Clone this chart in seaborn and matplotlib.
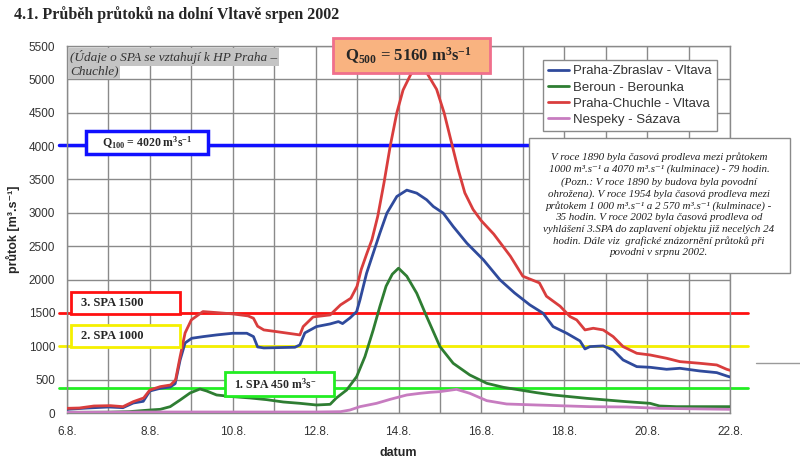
import numpy as np
import pandas as pd
import matplotlib
matplotlib.use("Agg")
import matplotlib.pyplot as plt
from matplotlib.patches import Rectangle
from matplotlib.lines import Line2D
import seaborn as sns

# ---------------- data ----------------
zbraslav_days = [6.0, 6.5, 7.0, 7.35, 7.6, 7.84, 8.0, 8.25, 8.49, 8.61, 8.73, 8.85, 9.01, 9.29,
                 9.61, 10.0, 10.34, 10.5, 10.6, 10.75, 11.1, 11.5, 11.62, 11.74, 12.02, 12.35,
                 12.55, 12.65, 12.83, 12.99, 13.07, 13.23, 13.39, 13.55, 13.72, 13.96, 14.2,
                 14.44, 14.68, 14.84, 15.08, 15.32, 15.65, 16.05, 16.45, 16.8, 17.17, 17.49,
                 17.73, 18.06, 18.38, 18.5, 18.62, 18.94, 19.18, 19.42, 19.75, 20.07, 20.47,
                 20.79, 21.27, 21.68, 21.92, 22.0]
zbraslav_vals = [55, 75, 90, 80, 150, 175, 330, 370, 390, 440, 795, 1050, 1120, 1145,
                 1170, 1195, 1195, 1145, 990, 975, 980, 985, 1020, 1200, 1295, 1335,
                 1370, 1340, 1425, 1520, 1695, 2095, 2395, 2695, 2995, 3245, 3340,
                 3295, 3195, 3095, 2995, 2795, 2545, 2295, 1995, 1800, 1620, 1495,
                 1295, 1195, 1080, 960, 995, 1005, 945, 795, 695, 685, 655,
                 670, 630, 605, 555, 540]

beroun_days = [6.0, 7.0, 7.5, 8.0, 8.25, 8.49, 8.73, 8.97, 9.21, 9.37, 9.61, 10.0, 10.42,
               10.82, 11.22, 11.62, 12.02, 12.35, 12.5, 12.75, 12.99, 13.19, 13.39, 13.55,
               13.7, 13.85, 14.0, 14.2, 14.44, 14.68, 15.0, 15.32, 15.72, 16.13, 16.53,
               16.93, 17.33, 17.73, 18.54, 19.5, 20.07, 20.3, 20.71, 22.0]
beroun_vals = [10, 12, 20, 45, 55, 95, 195, 300, 360, 330, 270, 245, 225,
               200, 165, 145, 120, 130, 225, 345, 545, 845, 1245, 1595,
               1900, 2080, 2170, 2050, 1795, 1445, 995, 745, 570, 445, 385,
               345, 305, 270, 220, 170, 145, 105, 95, 95]

chuchle_days = [6.0, 6.3, 6.65, 7.05, 7.35, 7.6, 7.85, 8.0, 8.25, 8.5, 8.62, 8.73, 8.85, 9.0,
                9.28, 9.6, 10.0, 10.37, 10.5, 10.6, 10.75, 11.05, 11.45, 11.62, 11.7, 11.94,
                12.35, 12.6, 12.85, 13.0, 13.1, 13.23, 13.36, 13.5, 13.65, 13.8, 13.96,
                14.11, 14.3, 14.5, 14.7, 14.92, 15.1, 15.28, 15.44, 15.6, 15.8, 16.0, 16.3,
                16.7, 17.0, 17.4, 17.57, 17.9, 18.14, 18.3, 18.5, 18.7, 18.94, 19.18, 19.42,
                19.75, 20.07, 20.47, 20.79, 21.27, 21.68, 21.92, 22.0]
chuchle_vals = [70, 75, 105, 110, 95, 170, 225, 345, 395, 420, 495, 845, 1200, 1395,
                1520, 1505, 1485, 1455, 1420, 1300, 1245, 1220, 1185, 1170, 1295, 1440,
                1470, 1620, 1720, 1900, 2150, 2380, 2600, 2950, 3450, 4000, 4500,
                4840, 5080, 5165, 5080, 4850, 4500, 4050, 3650, 3300, 3050, 2880, 2680,
                2350, 2050, 1950, 1750, 1600, 1445, 1395, 1245, 1270, 1245, 1145, 995,
                895, 870, 820, 770, 745, 720, 655, 640]

nespeky_days = [6.0, 8.0, 10.0, 12.0, 12.6, 12.83, 13.07, 13.47, 13.8, 14.2, 14.52, 14.76,
                15.0, 15.4, 15.72, 16.13, 16.61, 17.33, 18.62, 19.5, 20.3, 22.0]
nespeky_vals = [10, 15, 15, 15, 20, 45, 95, 145, 205, 270, 295, 310,
                320, 355, 295, 185, 135, 120, 95, 90, 70, 55]

series_names = ["Praha-Zbraslav - Vltava", "Beroun - Berounka",
                "Praha-Chuchle - Vltava", "Nespeky - Sázava"]
series_colors = ["#2f4a9c", "#2e7d32", "#d93d3d", "#c77cc0"]

x_tick_days = [6, 8, 10, 12, 14, 16, 18, 20, 22]
x_tick_labels = ["6.8.", "8.8.", "10.8.", "12.8.", "14.8.", "16.8.", "18.8.", "20.8.", "22.8."]
y_ticks = list(range(0, 5501, 500))

q100_level = 4020
spa3_level = 1500
spa2_level = 1000
spa1_level = 380   # drawn position of the "1. SPA 450" line in the reference

note_lines = [
    "V roce 1890 byla časová prodleva mezi průtokem",
    "1000 m³.s⁻¹ a 4070 m³.s⁻¹ (kulminace) - 79 hodin.",
    "(Pozn.: V roce 1890 by budova byla povodní",
    "ohrožena). V roce 1954 byla časová prodleva mezi",
    "průtokem 1 000 m³.s⁻¹ a 2 570 m³.s⁻¹ (kulminace) -",
    "35 hodin. V roce 2002 byla časová prodleva od",
    "vyhlášení 3.SPA do zaplavení objektu již necelých 24",
    "hodin. Dále viz  grafické znázornění průtoků při",
    "povodni v srpnu 2002.",
]

# ---------------- build frame ----------------
frames = []
for name, d, v in zip(series_names,
                      [zbraslav_days, beroun_days, chuchle_days, nespeky_days],
                      [zbraslav_vals, beroun_vals, chuchle_vals, nespeky_vals]):
    frames.append(pd.DataFrame({"den": d, "prutok": v, "stanice": name}))
df = pd.concat(frames, ignore_index=True)

# ---------------- style ----------------
sns.set_style("white")
plt.rcParams["font.family"] = ["Liberation Sans", "DejaVu Sans"]
plt.rcParams["mathtext.fontset"] = "custom"
plt.rcParams["mathtext.rm"] = "Liberation Serif:bold"
plt.rcParams["mathtext.it"] = "Liberation Serif:bold:italic"
plt.rcParams["mathtext.bf"] = "Liberation Serif:bold"

W, H = 800, 469
fig = plt.figure(figsize=(W / 100, H / 100), dpi=100)
fig.patch.set_facecolor("white")

def fx(px):
    return px / W

def fy(py):
    return 1 - py / H

ax = fig.add_axes([fx(67), fy(413), fx(730) - fx(67), fy(46) - fy(413)])

sns.lineplot(data=df, x="den", y="prutok", hue="stanice", hue_order=series_names,
             palette=dict(zip(series_names, series_colors)), estimator=None,
             linewidth=2.0, ax=ax, legend=True, zorder=3)

ax.set_xlim(6, 22)
ax.set_ylim(0, 5500)
ax.set_xticks(x_tick_days)
ax.set_xticklabels(x_tick_labels)
ax.set_xticks(np.arange(6, 23, 1), minor=True)
ax.set_yticks(y_ticks)
ax.grid(True, which="both", color="#8a8a8a", linewidth=1.0, zorder=0)
ax.set_axisbelow(True)
for s in ax.spines.values():
    s.set_color("#8a8a8a")
    s.set_linewidth(1.0)
ax.tick_params(axis="both", which="major", length=5, color="#8a8a8a",
               labelsize=8.5, labelcolor="#333333", direction="out")
ax.tick_params(axis="x", which="minor", length=0)
ax.tick_params(axis="x", which="major", pad=4)
ax.set_xlabel("datum", fontsize=9, fontweight="bold", labelpad=7)
ax.set_ylabel("průtok [m³.s⁻¹]", fontsize=9, fontweight="bold", labelpad=6)

# reference levels
ref_specs = [(q100_level, "#1010ff", 2.5), (spa3_level, "#ff1010", 2.0),
             (spa2_level, "#f5f000", 2.0), (spa1_level, "#22ee22", 2.0)]
for lvl, col, lw in ref_specs:
    ax.axhline(lvl, xmin=-0.012, xmax=1.027, color=col, linewidth=lw,
               clip_on=False, zorder=2)

# legend
handles, labels = ax.get_legend_handles_labels()
leg = ax.legend(handles, labels, loc="upper left", bbox_to_anchor=(0.718, 0.962),
                borderaxespad=0, frameon=True, fancybox=False, fontsize=9.5,
                handlelength=1.6, handletextpad=0.3, labelspacing=0.3,
                borderpad=0.4, framealpha=1)
leg.get_frame().set_edgecolor("#8a8a8a")
leg.get_frame().set_linewidth(1.0)
for t in leg.get_texts():
    t.set_color("#333333")
leg.set_zorder(6)

# ---------------- annotation boxes ----------------
def box(x0, y0, x1, y1, edge, face="white", lw=2.0, z=7):
    r = Rectangle((fx(x0), fy(y1)), fx(x1) - fx(x0), fy(y0) - fy(y1),
                  transform=fig.transFigure, facecolor=face, edgecolor=edge,
                  linewidth=lw, zorder=z)
    fig.patches.append(r)

serif_b = dict(family="Liberation Serif", fontweight="bold")

box(333, 38, 490, 73, "#f06f8c", face="#f9b380", lw=2.0)
fig.text(fx(408), fy(56), r"Q$_{500}$ = 5160 m$^3$s$^{-1}$", ha="center", va="center",
         fontsize=12, zorder=8, **serif_b)

box(86, 131, 208, 154, "#1010ff", lw=2.5)
fig.text(fx(147), fy(143), r"Q$_{100}$ = 4020 m$^3$s$^{-1}$", ha="center", va="center",
         fontsize=8.5, zorder=8, **serif_b)

box(71, 292, 180, 314, "#ff1010")
fig.text(fx(81), fy(303), "3. SPA 1500", ha="left", va="center", fontsize=9, zorder=8, **serif_b)

box(71, 325, 180, 347, "#f5f000")
fig.text(fx(81), fy(336), "2. SPA 1000", ha="left", va="center", fontsize=9, zorder=8, **serif_b)

box(225, 372, 334, 396, "#22ee22")
fig.text(fx(234), fy(384), r"1. SPA 450 m$^3$s$^{-}$", ha="left", va="center",
         fontsize=8.5, zorder=8, **serif_b)

# gray note top-left
note_kw = dict(family="Liberation Serif", style="italic", fontsize=9.5, color="#333333",
               ha="left", va="center", zorder=8)
fig.text(fx(70), fy(57), "(Údaje o SPA se vztahují k HP Praha –",
         bbox=dict(facecolor="#c4c4c4", edgecolor="none", pad=1.2), **note_kw)
fig.text(fx(70), fy(71), "Chuchle)",
         bbox=dict(facecolor="#c4c4c4", edgecolor="none", pad=1.2), **note_kw)

# historical text box
box(529, 138, 790, 273, "#8a8a8a", lw=1.0, z=7)
fig.text(fx(659), fy(205), "\n".join(note_lines), ha="center", va="center",
         family=["Liberation Serif", "DejaVu Serif"], style="italic", fontsize=7.9,
         linespacing=1.33, color="#222222", zorder=8)

# stray line at the right
fig.lines.append(Line2D([fx(756), fx(800)], [fy(363), fy(363)], transform=fig.transFigure,
                        color="#9a9a9a", linewidth=1.0))

# title
fig.text(fx(14), fy(15), "4.1. Průběh průtoků na dolní Vltavě srpen 2002",
         ha="left", va="center", fontsize=11.5, **serif_b)

fig.savefig("out.png", dpi=100, facecolor="white")
